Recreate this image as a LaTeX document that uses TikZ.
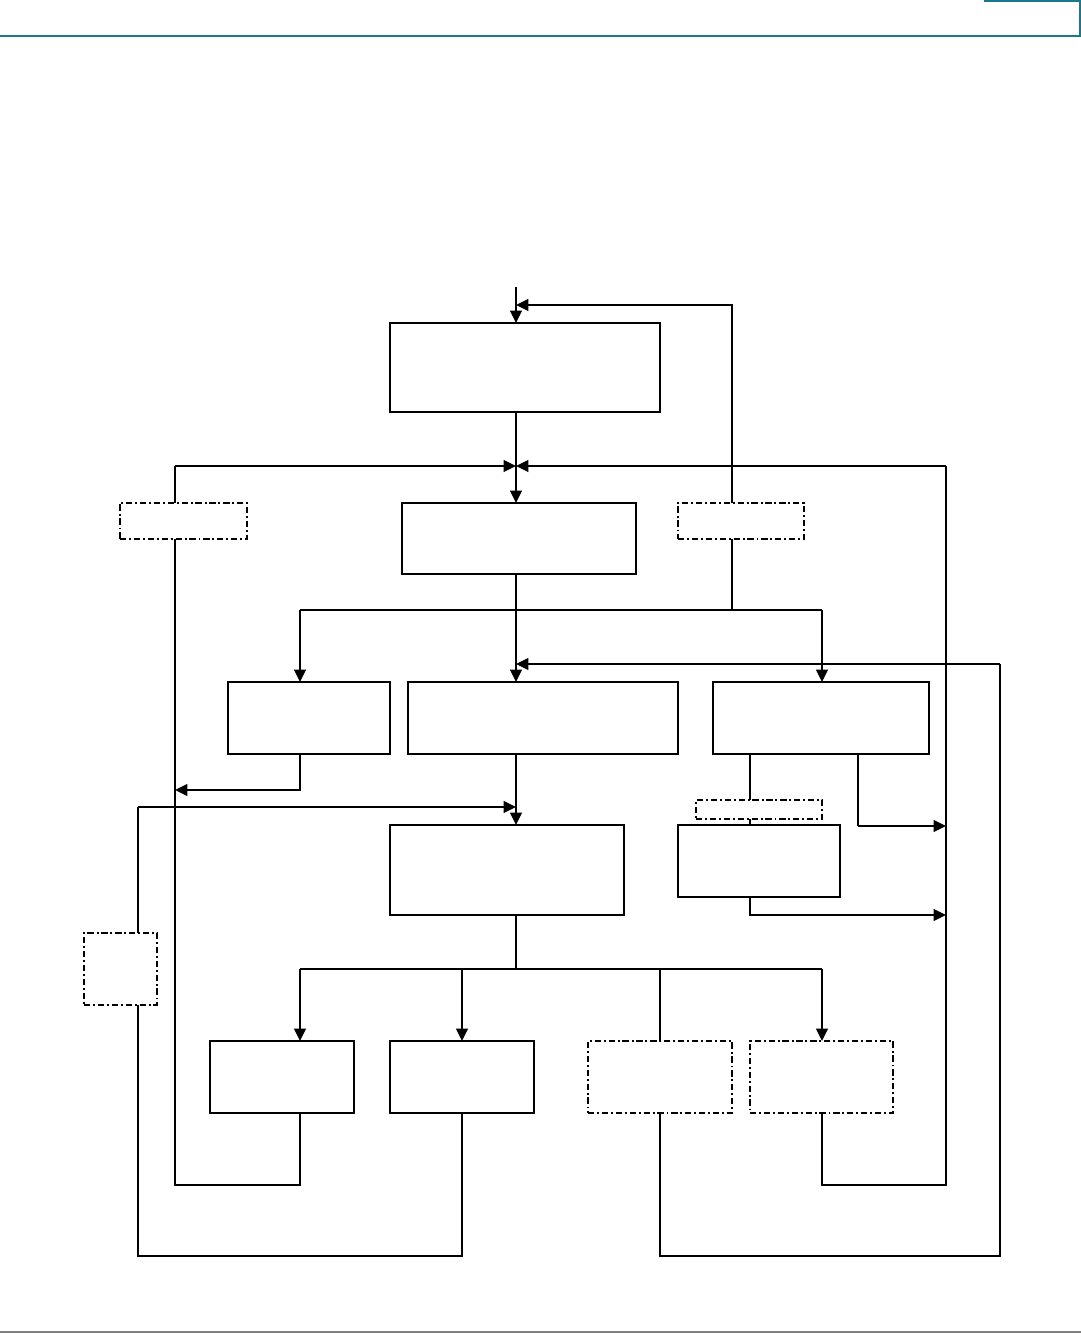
\documentclass[tikz,border=0pt]{standalone}
\usepackage{tikz}
\usetikzlibrary{arrows.meta}

\tikzset{
    blk/.style 2 args={draw, line width=1.3pt, minimum width=#1*0.02cm,
        minimum height=#2*0.02cm, inner sep=0pt, outer sep=0pt},
    opt/.style 2 args={blk={#1}{#2},
        dash pattern=on 3.6pt off 1.6pt on 1.1pt off 1.6pt},
    arr/.style={line width=1.3pt, -{Triangle[length=7pt, width=6.5pt]}},
    ln/.style={line width=1.3pt},
    fine/.style={line width=0.75pt}
}

\begin{document}
\begin{tikzpicture}[x=0.02cm, y=-0.02cm, line join=miter]

    \useasboundingbox (0,0) rectangle (1081,1333);

    % page header and footer rules
    \definecolor{hdteal}{RGB}{26,120,140}
    \draw[hdteal, line width=0.9pt] (0,36) -- (1080,36) -- (1080,1) -- (984,1);
    \draw[gray, line width=0.6pt] (0,1332) -- (1081,1332);

    % solid blocks
    \node[blk={270}{89}] (S1) at (525,367.5) {};
    \node[blk={234}{71}] (S2) at (519,538.5) {};
    \node[blk={162}{72}] (S3) at (309,718) {};
    \node[blk={270}{72}] (S4) at (543,718) {};
    \node[blk={216}{72}] (S5) at (821,718) {};
    \node[blk={234}{90}] (S6) at (507,870) {};
    \node[blk={162}{72}] (S7) at (759,861) {};
    \node[blk={144}{72}] (S8) at (282,1077) {};
    \node[blk={144}{72}] (S9) at (462,1077) {};

    % dash-dot blocks
    \node[opt={127}{36}] (Q1) at (183.5,521) {};
    \node[opt={126}{36}] (Q2) at (741,521) {};
    \node[opt={126}{19}] (Q3) at (759,809.5) {};
    \node[opt={73}{72}]  (Q4) at (120.5,969) {};
    \node[opt={144}{72}] (Q5) at (660,1077) {};
    \node[opt={143}{72}] (Q6) at (821.5,1077) {};

    % junctions
    \coordinate (IN) at (516,287);
    \coordinate (J0) at (516,305);
    \coordinate (T0) at (732,305);
    \coordinate (J1) at (516,466);
    \coordinate (L1) at (175,466);
    \coordinate (R1) at (946,466);
    \coordinate (J2) at (516,610);
    \coordinate (A2) at (300,610);
    \coordinate (B2) at (822,610);
    \coordinate (C2) at (732,610);
    \coordinate (J3) at (516,664);
    \coordinate (R3) at (1000,664);
    \coordinate (L4) at (175,790);
    \coordinate (J5) at (516,807);
    \coordinate (L5) at (138,807);
    \coordinate (K5) at (858,826);
    \coordinate (K6) at (750,915);
    \coordinate (J7) at (516,969);
    \coordinate (A7) at (300,969);
    \coordinate (B7) at (462,969);
    \coordinate (C7) at (660,969);
    \coordinate (D7) at (822,969);
    \coordinate (M1) at (300,1185);
    \coordinate (M2) at (822,1185);
    \coordinate (M3) at (462,1256);
    \coordinate (M4) at (660,1256);

    % entry and top feedback
    \draw[arr] (IN) -- (IN |- S1.north);
    \draw[arr] (T0 |- Q2.north) -- (T0) -- (J0);
    \draw[arr] (S1.south -| J1) -- (J1 |- S2.north);
    \draw[arr] (L1) -- (J1);
    \draw[arr] (R1) -- (J1);
    \draw[fine] (L1) -- (L1 |- Q1.north);
    \draw[ln] (T0 |- Q2.south) -- (C2);

    % first branch
    \draw[arr] (S2.south -| J2) -- (J2 |- S4.north);
    \draw[ln] (A2) -- (B2);
    \draw[arr] (A2) -- (A2 |- S3.north);
    \draw[arr] (B2) -- (B2 |- S5.north);
    \draw[arr] (R3) -- (J3);

    % second level
    \draw[arr] (A2 |- S3.south) -- (A2 |- L4) -- (L4);
    \draw[arr] (S4.south -| J5) -- (J5 |- S6.north);
    \draw[arr] (L5) -- (J5);
    \draw[fine] (L5) -- (L5 |- Q4.north);
    \draw[ln] (K6 |- S5.south) -- (K6 |- Q3.north);
    \draw[ln] (K6 |- Q3.south) -- (K6 |- S7.north);
    \draw[fine] (K5 |- S5.south) -- (K5);
    \draw[arr] (K5) -- (K5 -| R1);
    \draw[arr] (K6 |- S7.south) -- (K6) -- (K6 -| R1);

    % bottom branch
    \draw[ln] (S6.south -| J7) -- (J7);
    \draw[ln] (A7) -- (D7);
    \draw[arr] (A7) -- (A7 |- S8.north);
    \draw[arr] (B7) -- (B7 |- S9.north);
    \draw[ln] (C7) -- (C7 |- Q5.north);
    \draw[arr] (D7) -- (D7 |- Q6.north);

    % return loops
    \draw[fine] (L1 |- Q1.south) -- (L1 |- M1) -- (M1) -- (M1 |- S8.south);
    \draw[fine] (R1) -- (R1 |- M2) -- (M2) -- (M2 |- Q6.south);
    \draw[fine] (L5 |- Q4.south) -- (L5 |- M3) -- (M3) -- (M3 |- S9.south);
    \draw[fine] (R3) -- (R3 |- M4) -- (M4) -- (M4 |- Q5.south);

\end{tikzpicture}
\end{document}
